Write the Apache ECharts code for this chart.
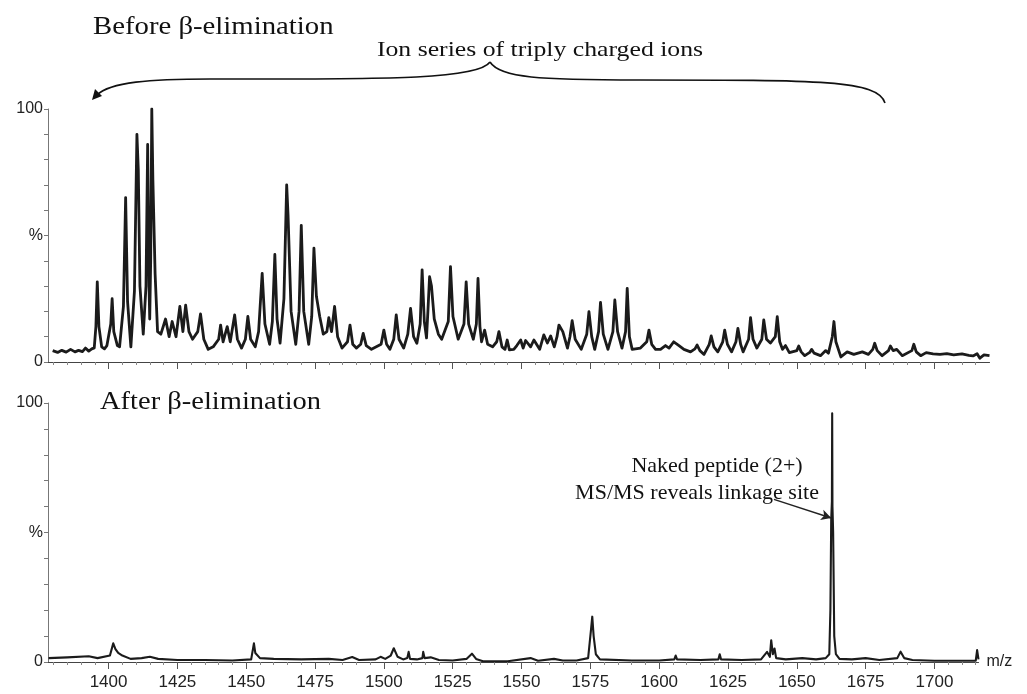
<!DOCTYPE html>
<html>
<head>
<meta charset="utf-8">
<script src="https://cdn.jsdelivr.net/npm/echarts@6/dist/echarts.min.js"></script>
<style>
  html, body { margin: 0; padding: 0; background: #ffffff; }
  #chart { width: 1027px; height: 694px; }
</style>
</head>
<body>
<div id="chart"></div>
<script>
// m/z tick labels and minor tick positions
const tickLabels = [1400, 1425, 1450, 1475, 1500, 1525, 1550, 1575, 1600, 1625, 1650, 1675, 1700];
const minorTicks = [1380, 1385, 1390, 1395, 1405, 1410, 1415, 1420, 1430, 1435, 1440, 1445, 1455, 1460, 1465, 1470,
  1480, 1485, 1490, 1495, 1505, 1510, 1515, 1520, 1530, 1535, 1540, 1545, 1555, 1560, 1565, 1570, 1580, 1585, 1590, 1595,
  1605, 1610, 1615, 1620, 1630, 1635, 1640, 1645, 1655, 1660, 1665, 1670, 1680, 1685, 1690, 1695, 1705, 1710, 1715];

// Spectrum before beta-elimination: [m/z, relative intensity %]
const spectrumBefore = [
  [1379.7,4.5],[1381.5,3.8],[1383.0,4.6],[1384.6,3.9],[1386.2,5.0],[1387.8,4.0],[1389.1,4.6],[1390.5,4.1],[1391.6,5.5],[1392.8,4.3],[1393.9,5.2],[1394.8,5.6],
  [1395.4,14],[1395.9,31.7],[1396.5,14],[1397.5,6],[1398.5,5.2],[1399.4,6.5],
  [1400.8,15],[1401.3,25],[1401.9,12],[1403.2,6.5],[1404.0,6],
  [1405.4,22],[1406.2,65],[1406.9,24],[1408.1,6],
  [1409.4,28],[1410.3,90],[1410.8,76],[1411.4,30],[1412.6,11],
  [1413.6,30],[1414.2,86],[1414.7,30],[1414.95,17],[1415.3,40],[1415.7,100],[1416.1,72],[1416.9,35],[1417.8,12],
  [1419.0,11],[1420.7,17],[1422.0,10],[1423.1,16],[1424.5,10],[1425.9,22],[1427.0,12],[1428.0,22.5],[1429.2,12],[1430.5,9],
  [1432.4,12],[1433.4,19],[1434.6,9],[1436.2,5],[1438.0,6],
  [1440.0,9],[1440.7,14.6],[1441.6,8],[1443.1,14],[1444.2,8],[1445.8,18.6],[1446.8,9],[1448.3,5.5],
  [1449.7,9],[1450.6,18],[1451.6,9],[1453.3,6],
  [1454.5,12],[1455.8,35],[1456.8,15],[1458.5,7],
  [1459.5,16],[1460.4,42.5],[1461.2,17],[1462.3,7.5],
  [1463.7,25],[1464.7,70],[1465.2,58],[1466.3,20],[1468.0,7],
  [1469.2,20],[1470.0,54],[1470.9,20],[1472.7,7],
  [1473.8,18],[1474.6,45],[1475.5,26],[1476.7,18],[1478.0,11],
  [1479.3,12],[1480.0,17.5],[1481.0,12],[1482.1,22],[1483.2,10],[1484.8,5.5],
  [1486.8,8],[1487.7,14.6],[1488.7,7],[1490.0,5.5],
  [1491.6,7],[1492.5,11.3],[1493.6,6.5],[1495.5,5],
  [1499.0,7],[1500.0,12.6],[1501.0,7],[1502.2,5],
  [1503.6,9],[1504.5,18.6],[1505.5,9],[1507.2,5.5],
  [1508.7,11],[1509.7,21.2],[1510.8,10],[1512.0,7.4],
  [1513.2,15],[1513.9,36.4],[1514.7,16],[1515.5,9.5],
  [1516.0,20],[1516.6,33.7],[1517.3,30],[1518.3,17],[1519.8,11],[1521.0,9],
  [1523.4,16],[1524.2,37.7],[1525.1,18],[1527.0,9],
  [1529.1,15],[1529.9,31.7],[1530.8,15],[1532.5,9],
  [1533.6,15],[1534.2,33],[1534.9,14],[1535.5,8],[1536.6,12.6],[1537.7,7],[1539.5,6],
  [1541.0,8],[1541.8,12],[1542.9,6],[1544.0,5],[1544.8,8.7],[1545.6,4.8],[1547.2,5],[1548.3,6.5],[1549.7,8.7],[1550.6,5.5],
  [1551.5,8.5],[1553.3,6],[1554.5,8.7],[1556.6,5],
  [1558.1,10.7],[1559.4,7.5],[1560.6,10.3],[1561.9,6],
  [1562.9,10],[1563.6,14.6],[1565.0,12],[1566.7,5.5],
  [1567.6,10],[1568.4,16.3],[1569.5,9],[1571.7,5],
  [1573.7,11],[1574.5,19.9],[1575.5,10],[1576.6,5],
  [1578.0,12],[1578.7,23.6],[1579.7,11],[1581.4,5],
  [1583.2,12],[1583.9,24.5],[1584.9,12],[1586.5,5.5],
  [1587.8,12],[1588.4,29.1],[1589.2,10],[1590.2,5],
  [1593.2,5.5],[1595.5,8],[1596.3,12.6],[1597.3,7],[1598.7,5],
  [1600.5,5],[1602.3,6.5],[1603.6,5.5],[1605.3,8],[1607.2,6.5],[1609.0,5],[1611.4,4],
  [1613.0,5.2],[1613.8,6.7],[1614.8,4.5],[1616.3,3],
  [1618.2,7],[1618.9,10.3],[1619.9,6],[1621.3,4],
  [1623.1,8],[1623.8,12.6],[1624.8,7],[1626.3,4],
  [1627.9,8],[1628.6,13.3],[1629.6,7],[1630.5,4],
  [1632.5,9],[1633.2,17.5],[1634.1,9],[1635.5,5.5],
  [1637.3,9],[1638.0,16.6],[1639.0,9],[1640.4,7.5],
  [1642.2,10],[1642.9,17.9],[1643.8,8],[1644.8,5],[1645.9,6.5],[1647.3,3.7],
  [1650.0,4.5],[1650.7,6.3],[1651.6,4],[1652.9,2.5],
  [1654.7,3.8],[1655.4,5],[1656.3,3.5],[1658.6,2.5],[1660.5,4.5],[1661.5,3.5],
  [1662.9,10],[1663.5,16],[1664.2,8],[1666.0,2],
  [1668.3,4],[1670.7,3],[1673.8,4],[1676.0,3],
  [1677.6,5],[1678.3,7.4],[1679.2,4.5],[1681.0,2.5],
  [1683.3,4.5],[1684.0,6.3],[1685.0,4.5],[1686.3,5],[1688.3,2.5],
  [1691.8,4.5],[1692.5,7],[1693.4,4],[1695.0,2.5],
  [1697.0,3.7],[1699.5,3.2],[1702.0,3.0],[1704.5,3.3],[1707.0,2.8],[1710.0,3.2],[1712.5,2.6],[1714.0,2.4],
  [1715.5,3.3],[1716.5,1.5],[1718.0,2.8],[1720.0,2.5]
];

// Spectrum after beta-elimination: [m/z, relative intensity %]
const spectrumAfter = [
  [1378.2,1.5],[1385,1.8],[1392.8,2.2],[1396,1.5],[1400.5,2.5],[1401.7,7.2],[1402.5,5],[1403.5,3.5],[1405,2.5],[1408,1.2],
  [1412,1.5],[1415,2],[1418,1.2],[1425,0.8],[1435,0.8],[1445,0.6],[1451.8,1],[1452.8,7.2],[1453.3,3.5],[1455,1.5],
  [1460,1.2],[1470,1],[1480,1.2],[1485,0.8],[1488.5,1.9],[1491,0.8],[1497,1],[1498.8,2],[1500.5,1.2],[1502.5,2.5],
  [1503.6,5.3],[1505,2],[1507,1],[1508.5,1.5],[1509,3.9],[1509.5,1.2],[1512,1],[1514,1.5],[1514.3,3.9],[1514.8,1.5],
  [1517,1.8],[1520,0.8],[1525,0.6],[1530,1.2],[1532,3.2],[1533.5,1.2],[1536,0.3],[1545,0.3],[1553.3,1.5],[1556,0.5],
  [1561.8,1.2],[1565,0.6],[1570,0.6],[1574.2,1.5],[1575.2,12],[1575.7,17.5],[1576.2,10],[1577,3],[1578.5,1],[1590,0.6],
  [1600,0.6],[1605.5,1],[1606,2.5],[1606.5,1],[1615,0.8],[1621.5,1],[1622,3],[1622.5,1],[1630,0.8],[1637,1],
  [1639.2,3.9],[1640.2,2],[1640.7,8.4],[1641.3,3],[1641.9,5.2],[1642.5,1.5],[1646,1],[1652,1.5],[1657,1],[1660.5,1.5],
  [1661.8,3],[1662.2,20],[1662.5,55],[1662.75,62],[1662.85,96],[1662.95,60],[1663.2,50],[1663.6,10],[1664.2,3],[1665.5,1.2],
  [1670,1],[1675,1.5],[1680,0.8],[1686.5,1.5],[1687.7,4],[1689,1.5],[1692,0.8],[1700,0.5],[1710,0.5],[1715,0.5],
  [1715.5,4.6],[1716,1]
];

// Arrow for the annotated peak: from the label to the side of the peak
const arrowFrom = [1641.7, 62.8];
const arrowTo = [1662.5, 55.6];

const serif = 'Liberation Serif, Times New Roman, serif';
const sans = 'Liberation Sans, Arial, sans-serif';

const yLabel = v => (v === 100 ? '100' : v === 50 ? '%' : v === 0 ? '0' : '');

function yAxis(gridIndex) {
  return {
    type: 'value', gridIndex, min: 0, max: 100, interval: 10,
    axisLine: { show: true, lineStyle: { color: '#777', width: 1 } },
    axisTick: { show: true, length: 4, lineStyle: { color: '#777' } },
    axisLabel: { formatter: yLabel, fontFamily: sans, fontSize: 16, color: '#222', margin: 5 },
    splitLine: { show: false }
  };
}

function majorAxis(gridIndex, max, withLabels) {
  return {
    type: 'value', gridIndex, min: 1378, max, position: 'bottom',
    axisLine: { show: true, onZero: false, lineStyle: { color: '#444', width: 1.2 } },
    axisTick: { show: true, length: 7, customValues: tickLabels, lineStyle: { color: '#555' } },
    axisLabel: withLabels
      ? { show: true, customValues: tickLabels, formatter: v => String(v), fontFamily: sans, fontSize: 17, color: '#222', margin: 12 }
      : { show: false },
    splitLine: { show: false },
    name: withLabels ? 'm/z' : '',
    nameLocation: 'end', nameGap: 8,
    nameTextStyle: { fontFamily: sans, fontSize: 16, color: '#222' }
  };
}

function minorAxis(gridIndex, max) {
  return {
    type: 'value', gridIndex, min: 1378, max, position: 'bottom',
    axisLine: { show: false, onZero: false },
    axisTick: { show: true, length: 3, customValues: minorTicks, lineStyle: { color: '#888' } },
    axisLabel: { show: false },
    splitLine: { show: false }
  };
}

const chart = echarts.init(document.getElementById('chart'), null, { renderer: 'canvas' });

chart.setOption({
  animation: false,
  backgroundColor: '#ffffff',
  grid: [
    { left: 48, top: 109, width: 941.5, height: 253 },
    { left: 48, top: 403, width: 930.5, height: 259 }
  ],
  xAxis: [
    majorAxis(0, 1720, false),
    minorAxis(0, 1720),
    majorAxis(1, 1716, true),
    minorAxis(1, 1716)
  ],
  yAxis: [yAxis(0), yAxis(1)],
  series: [
    {
      type: 'line', xAxisIndex: 0, yAxisIndex: 0,
      data: spectrumBefore, showSymbol: false, symbol: 'none',
      lineStyle: { color: '#1b1b1b', width: 2.8, join: 'round' }
    },
    {
      type: 'line', xAxisIndex: 2, yAxisIndex: 1,
      data: spectrumAfter, showSymbol: false, symbol: 'none',
      lineStyle: { color: '#1b1b1b', width: 2.1, join: 'round' },
      markLine: {
        silent: true, animation: false,
        symbol: ['none', 'arrow'], symbolSize: [8, 10],
        label: { show: false },
        lineStyle: { color: '#222', width: 1.5, type: 'solid' },
        data: [[{ coord: arrowFrom }, { coord: arrowTo }]]
      }
    }
  ],
  graphic: [
    { type: 'text', x: 93, y: 15, scaleX: 1.15, style: { text: 'Before β-elimination', font: '25px ' + serif, fill: '#111' } },
    { type: 'text', x: 100, y: 390, scaleX: 1.14, style: { text: 'After β-elimination', font: '25px ' + serif, fill: '#111' } },
    { type: 'text', x: 540, y: 50, scaleX: 1.17, style: { text: 'Ion series of triply charged ions', font: '22px ' + serif, fill: '#111', align: 'center', verticalAlign: 'middle' } },
    { type: 'text', x: 717, y: 466, style: { text: 'Naked peptide (2+)', font: '22px ' + serif, fill: '#111', align: 'center', verticalAlign: 'middle' } },
    { type: 'text', x: 697, y: 493, style: { text: 'MS/MS reveals linkage site', font: '22px ' + serif, fill: '#111', align: 'center', verticalAlign: 'middle' } },
    // curly brace spanning the triply charged ion series
    { type: 'bezierCurve', shape: { x1: 97, y1: 95, cpx1: 110, cpy1: 82, cpx2: 150, cpy2: 79, x2: 210, y2: 79 }, style: { stroke: '#111', lineWidth: 1.6, fill: null } },
    { type: 'bezierCurve', shape: { x1: 210, y1: 79, cpx1: 380, cpy1: 79, cpx2: 478, cpy2: 80, x2: 490, y2: 62 }, style: { stroke: '#111', lineWidth: 1.6, fill: null } },
    { type: 'bezierCurve', shape: { x1: 490, y1: 62, cpx1: 500, cpy1: 78, cpx2: 540, cpy2: 80, x2: 640, y2: 80 }, style: { stroke: '#111', lineWidth: 1.6, fill: null } },
    { type: 'bezierCurve', shape: { x1: 640, y1: 80, cpx1: 820, cpy1: 80, cpx2: 878, cpy2: 80, x2: 885, y2: 103 }, style: { stroke: '#111', lineWidth: 1.6, fill: null } },
    { type: 'polygon', shape: { points: [[92, 100], [95, 89], [102, 96]] }, style: { fill: '#111' } }
  ]
});
</script>
</body>
</html>
